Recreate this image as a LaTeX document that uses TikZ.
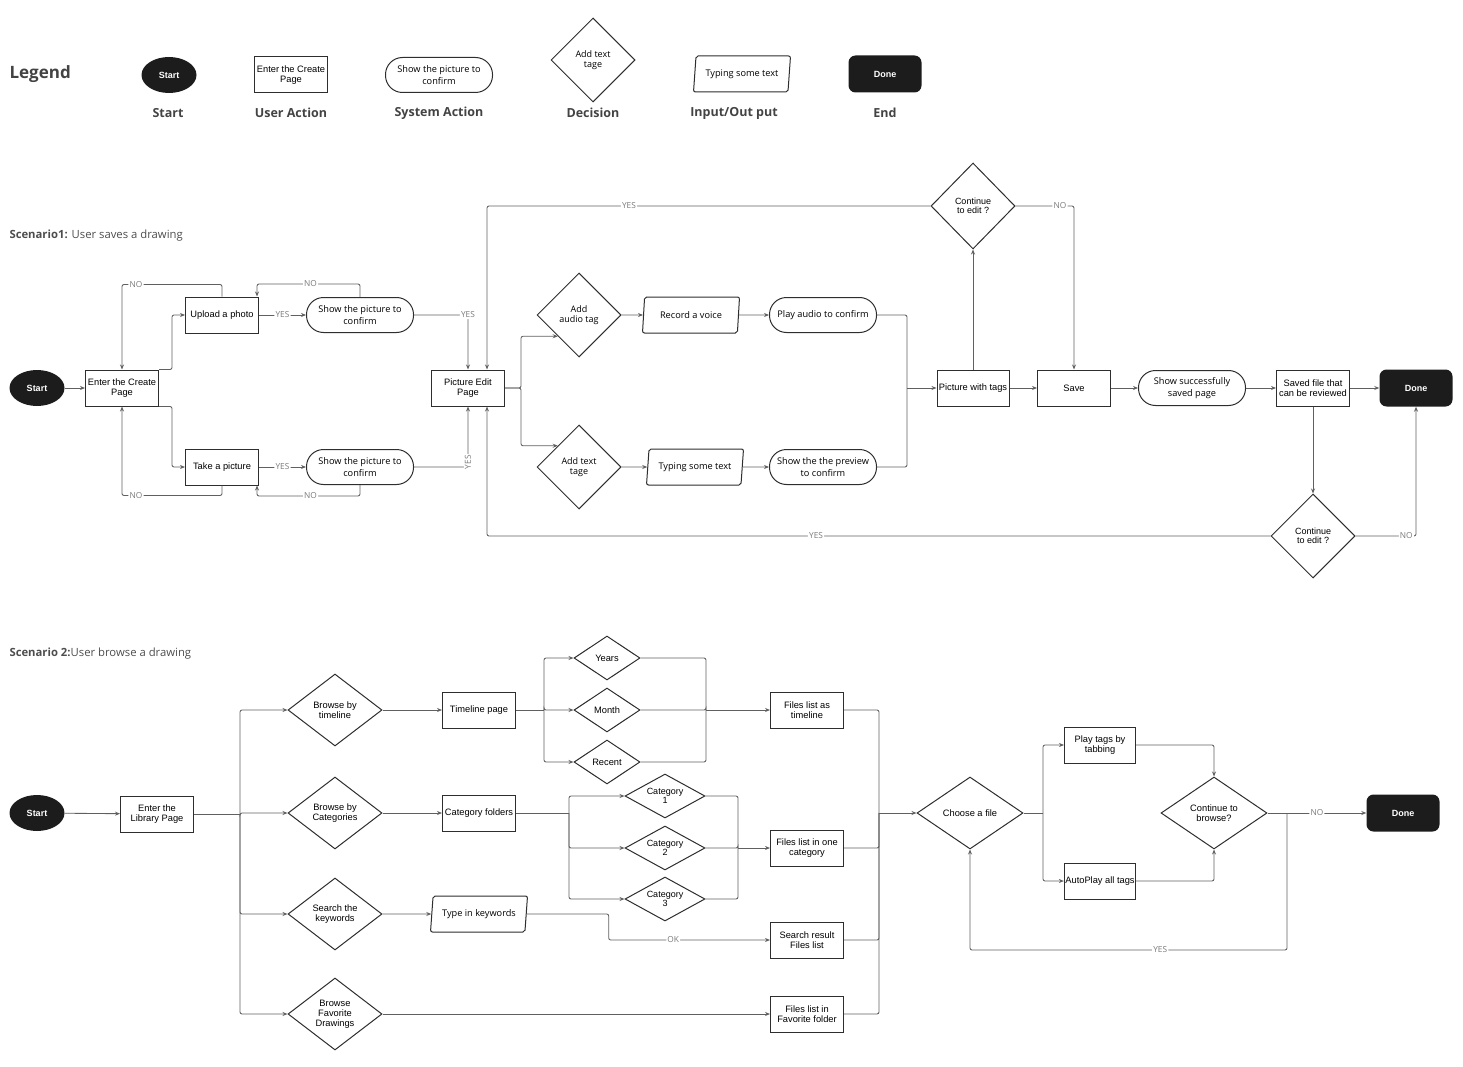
\documentclass[tikz,border=0pt]{standalone}
\usepackage{fontspec}
\setmainfont{Liberation Sans}
\newfontfamily\osans{Open Sans}
\usetikzlibrary{shapes.geometric, arrows.meta, positioning, calc}
\definecolor{nodeline}{HTML}{2e2e2e}
\definecolor{linegrey}{HTML}{606060}
\definecolor{labelgrey}{HTML}{7a7a7a}
\definecolor{termfill}{HTML}{1c1c1c}
\tikzset{
  useract/.style={rectangle, draw=nodeline, fill=white, line width=1pt,
                  minimum width=73pt, minimum height=36pt, inner sep=1pt,
                  align=center, font=\fontsize{9.3}{9.8}\selectfont},
  sysact/.style={rectangle, draw=nodeline, fill=white, line width=1pt, rounded corners=17pt,
                 minimum width=107pt, minimum height=35pt, inner sep=1pt,
                 align=center, font=\osans\fontsize{9.2}{11.5}\selectfont},
  decision/.style={diamond, draw=nodeline, fill=white, line width=1pt, inner sep=0pt,
                   minimum width=84pt, minimum height=84pt,
                   align=center, font=\osans\fontsize{9}{9.8}\selectfont},
  browsedec/.style={decision, minimum width=94pt, minimum height=72pt, aspect=1.3,
                    font=\fontsize{9.3}{10}\selectfont},
  subdec/.style={decision, minimum width=66pt, minimum height=44pt, aspect=1.5,
                 font=\fontsize{9.3}{10}\selectfont},
  catdec/.style={decision, minimum width=80pt, minimum height=44pt, aspect=1.8,
                 font=\fontsize{9}{8.8}\selectfont},
  choicedec/.style={decision, minimum width=106pt, minimum height=72pt, aspect=1.5,
                    font=\fontsize{9.3}{10}\selectfont},
  inout/.style={trapezium, trapezium left angle=77, trapezium right angle=103,
                trapezium stretches body, draw=nodeline, fill=white, line width=1pt,
                rounded corners=2pt, minimum width=97pt, minimum height=36pt, inner sep=1pt,
                align=center, font=\osans\fontsize{9.2}{10}\selectfont},
  startnode/.style={ellipse, fill=termfill, text=white, minimum width=55pt, minimum height=36pt,
                    font=\bfseries\fontsize{9}{9}\selectfont},
  endnode/.style={rectangle, rounded corners=7pt, fill=termfill, text=white,
                  minimum width=73pt, minimum height=37pt, font=\bfseries\fontsize{9}{9}\selectfont},
  arr/.style={-{Stealth[length=5pt,width=4pt]}, draw=linegrey, line width=0.85pt, rounded corners=2pt},
  conn/.style={draw=linegrey, line width=0.85pt, rounded corners=2pt},
  lbl/.style={font=\osans\fontsize{8.3}{9}\selectfont, text=labelgrey, fill=white, inner sep=1.2pt},
  legendlabel/.style={font=\osans\bfseries\fontsize{12.5}{14}\selectfont, text=nodeline!90},
  sctitle/.style={font=\osans\fontsize{11.3}{13}\selectfont, text=nodeline!85, anchor=west},
}

\begin{document}
\begin{tikzpicture}[x=1pt, y=-1pt]
  \useasboundingbox (0,0) rectangle (1463,1067);

  % Legend
  \node[font=\osans\bfseries\fontsize{17}{20}\selectfont, text=nodeline!90, anchor=west]
    (legend) at (6,74) {Legend};
  \node[startnode] (lgstart) at (169,75) {Start};
  \node[useract]   (lguser)  at (291,75) {Enter the Create\\Page};
  \node[sysact]    (lgsys)   at (439,75) {Show the picture to\\confirm};
  \node[decision]  (lgdec)   at (593,60) {Add text\\tage};
  \node[inout]     (lgio)    at (742,74) {Typing some text};
  \node[endnode]   (lgend)   at (885,74) {Done};
  \node[legendlabel] (lgtxt1) at (168,113) {Start};
  \node[legendlabel] (lgtxt2) at (291,113) {User Action};
  \node[legendlabel] (lgtxt3) at (439,113) {System Action};
  \node[legendlabel] (lgtxt4) at (593,113) {Decision};
  \node[legendlabel] (lgtxt5) at (734,113) {Input/Out put};
  \node[legendlabel] (lgtxt6) at (885,113) {End};

  % Scenario 1
  \node[sctitle] (title1) at (6,236) {\textbf{Scenario1:} User saves a drawing};
  \node[startnode] (start1)  at (37,388)  {Start};
  \node[useract]   (create)  at (122,388) {Enter the Create\\Page};
  \node[useract]   (upload)  at (222,315) {Upload a photo};
  \node[useract]   (take)    at (222,467) {Take a picture};
  \node[sysact]    (show1)   at (360,315) {Show the picture to\\confirm};
  \node[sysact]    (show2)   at (360,467) {Show the picture to\\confirm};
  \node[useract]   (edit)    at (468,388) {Picture Edit\\Page};
  \node[decision]  (audio)   at (579,315) {Add\\audio tag};
  \node[decision]  (texttag) at (579,467) {Add text\\tage};
  \node[inout]     (record)  at (691,315) {Record a voice};
  \node[inout]     (typing)  at (695,467) {Typing some text};
  \node[sysact]    (play)    at (823,315) {Play audio to confirm};
  \node[sysact]    (preview) at (823,467) {Show the the preview\\to confirm};
  \node[useract, minimum width=72pt] (withtags) at (973,388) {Picture with tags};
  \node[decision, minimum height=86pt, font=\fontsize{9}{9.5}\selectfont]
                   (cont1)   at (973,206) {Continue\\to edit ?};
  \node[useract]   (save)    at (1074,388) {Save};
  \node[sysact]    (saved)   at (1192,388) {Show successfully\\saved page};
  \node[useract]   (review)  at (1313,388) {Saved file that\\can be reviewed};
  \node[endnode]   (done1)   at (1416,388) {Done};
  \node[decision, font=\fontsize{9}{9.5}\selectfont]
                   (cont2)   at (1313,536) {Continue\\to edit ?};
  \coordinate (merge1) at (907,388);

  \draw[arr] (start1) -- (create);
  \draw[arr] (create.north east) -- ++(13,0) |- (upload.west);
  \draw[arr] (create.south east) -- ++(13,0) |- (take.west);
  \draw[arr] (upload.north) -- ++(0,-12) -| node[lbl, pos=0.43]{NO} (create.north);
  \draw[arr] (take.south) -- ++(0,10) -| node[lbl, pos=0.43]{NO} (create.south);
  \draw[arr] (upload) -- node[lbl]{YES} (show1);
  \draw[arr] (take) -- node[lbl]{YES} (show2);
  \draw[arr] (show1.north) -- ++(0,-13) -| node[lbl, pos=0.24]{NO} ([xshift=-2]upload.north east);
  \draw[arr] (show2.south) -- ++(0,11) -| node[lbl, pos=0.24]{NO} ([xshift=-2]take.south east);
  \draw[arr] (show1.east) -| node[lbl, pos=0.5]{YES} (edit.north);
  \draw[arr] (show2.east) -| node[lbl, rotate=90, pos=0.54]{YES} (edit.south);
  \draw[arr] (edit.east) -- ++(16,0) |- (audio.south west);
  \draw[arr] (edit.east) -- ++(16,0) |- (texttag.north west);
  \draw[arr] (audio) -- (record);
  \draw[arr] (texttag) -- (typing);
  \draw[arr] (record) -- (play);
  \draw[arr] (typing) -- (preview);
  \draw[conn] (play.east) -| (merge1);
  \draw[conn] (preview.east) -| (merge1);
  \draw[arr] (merge1) -- (withtags.west);
  \draw[arr] (withtags) -- (cont1);
  \draw[arr] (cont1.east) -| node[lbl, pos=0.38]{NO} (save.north);
  \draw[arr] (cont1.west) -| node[lbl, pos=0.34]{YES} ([xshift=19]edit.north);
  \draw[arr] (withtags) -- (save);
  \draw[arr] (save) -- (saved);
  \draw[arr] (saved) -- (review);
  \draw[arr] (review) -- (done1);
  \draw[arr] (review) -- (cont2);
  \draw[arr] (cont2.east) -| node[lbl, pos=0.42]{NO} (done1.south);
  \draw[arr] (cont2.west) -| node[lbl, pos=0.29]{YES} ([xshift=19]edit.south);

  % Scenario 2
  \node[sctitle] (title2) at (6,654) {\textbf{Scenario 2:}User browse a drawing};
  \node[startnode] (start2)   at (37,813)  {Start};
  \node[useract]   (library)  at (157,814) {Enter the\\Library Page};
  \node[browsedec] (bytime)   at (335,710) {Browse by\\timeline};
  \node[browsedec] (bycat)    at (335,813) {Browse by\\Categories};
  \node[browsedec] (search)   at (335,914) {Search the\\keywords};
  \node[browsedec] (byfav)    at (335,1014) {Browse\\Favorite\\Drawings};
  \node[useract]   (timeline) at (479,710) {Timeline page};
  \node[useract]   (catfold)  at (479,813) {Category folders};
  \node[inout]     (keywords) at (479,914) {Type in keywords};
  \node[subdec]    (years)    at (607,658) {Years};
  \node[subdec]    (month)    at (607,710) {Month};
  \node[subdec]    (recent)   at (607,762) {Recent};
  \node[catdec]    (cat1)     at (665,796) {Category\\1};
  \node[catdec]    (cat2)     at (665,848) {Category\\2};
  \node[catdec]    (cat3)     at (665,899) {Category\\3};
  \node[useract]   (fltime)   at (807,710) {Files list as\\timeline};
  \node[useract]   (flcat)    at (807,848) {Files list in one\\category};
  \node[useract]   (flsearch) at (807,940) {Search result\\Files list};
  \node[useract]   (flfav)    at (807,1014) {Files list in\\Favorite folder};
  \node[choicedec] (choose)   at (970,813) {Choose a file};
  \node[useract, minimum width=71pt] (playtab)  at (1100,745) {Play tags by\\tabbing};
  \node[useract, minimum width=71pt] (autoplay) at (1100,881) {AutoPlay all tags};
  \node[choicedec] (contb)    at (1214,813) {Continue to\\browse?};
  \node[endnode]   (done2)    at (1403,813) {Done};
  \coordinate (split2) at (240,814);
  \coordinate (split3) at (544,710);
  \coordinate (join3)  at (706,710);
  \coordinate (split4) at (569,813);
  \coordinate (join4)  at (738,848);
  \coordinate (join5)  at (879,813);
  \coordinate (split6) at (1043,813);
  \coordinate (back6)  at (1287,813);

  \draw[arr] (start2) -- (library);
  \draw[conn] (library.east) -- (split2);
  \foreach \d in {bytime, bycat, search, byfav}
    \draw[arr] (split2) |- (\d.west);
  \draw[arr] (bytime) -- (timeline);
  \draw[arr] (bycat) -- (catfold);
  \draw[arr] (search) -- (keywords);
  \draw[conn] (timeline.east) -- (split3);
  \foreach \t in {years, month, recent} {
    \draw[arr] (split3) |- (\t.west);
    \draw[conn] (\t.east) -| (join3);
  }
  \draw[arr] (join3) -- (fltime.west);
  \draw[conn] (catfold.east) -- (split4);
  \foreach \c in {cat1, cat2, cat3} {
    \draw[arr] (split4) |- (\c.west);
    \draw[conn] (\c.east) -| (join4);
  }
  \draw[arr] (join4) -- (flcat.west);
  \draw[arr] (keywords.east) -- ++(82,0) |- node[lbl, pos=0.7]{OK} (flsearch.west);
  \draw[arr] (byfav) -- (flfav);
  \foreach \f in {fltime, flcat, flsearch, flfav}
    \draw[conn] (\f.east) -| (join5);
  \draw[arr] (join5) -- (choose.west);
  \draw[conn] (choose.east) -- (split6);
  \draw[arr] (split6) |- (playtab.west);
  \draw[arr] (split6) |- (autoplay.west);
  \draw[arr] (playtab.east) -| (contb.north);
  \draw[arr] (autoplay.east) -| (contb.south);
  \draw[arr] (contb) -- node[lbl]{NO} (done2);
  \draw[arr] (back6) -- ++(0,137) -| node[lbl, pos=0.2]{YES} (choose.south);

\end{tikzpicture}
\end{document}
